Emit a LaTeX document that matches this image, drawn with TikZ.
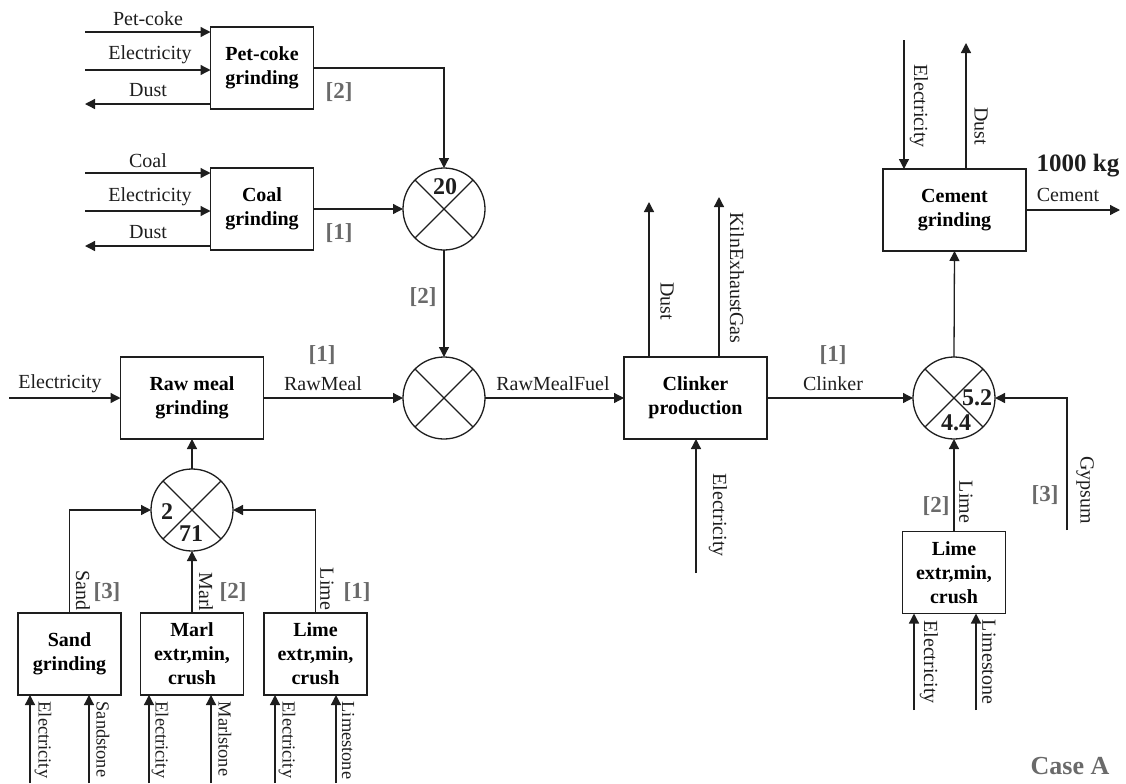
\documentclass[tikz,border=0pt]{standalone}
\usepackage{fontspec}
\setmainfont{Liberation Serif}
\usetikzlibrary{arrows.meta}
\definecolor{ink}{HTML}{1E1E1E}
\definecolor{idxgray}{HTML}{6A6A6A}
\begin{document}
\begin{tikzpicture}[x=0.5pt, y=-0.5pt, line width=0.65pt,
  arr/.style={draw=ink, -{Triangle[length=5pt,width=5pt]}},
  ln/.style={draw=ink},
  box/.style={draw=ink, align=center, inner sep=0pt, outer sep=0pt,
    font=\fontsize{10}{12}\selectfont\bfseries},
  sbox/.style={box, minimum width=51.5pt, minimum height=41pt},
  bbox/.style={box, minimum width=71.5pt, minimum height=41pt},
  mix/.style={circle, draw=ink, minimum size=41pt, inner sep=0pt, outer sep=0pt},
  lab/.style={font=\fontsize{10}{12}\selectfont, inner sep=0pt, text=ink},
  vlab/.style={lab, rotate=-90},
  blab/.style={font=\fontsize{9.2}{11}\selectfont, inner sep=0pt, text=ink, rotate=-90, anchor=west},
  idx/.style={font=\fontsize{11.5}{12}\selectfont\bfseries, inner sep=0pt, text=idxgray},
  num/.style={font=\fontsize{12}{12}\selectfont\bfseries, inner sep=0pt, text=ink}]
\useasboundingbox (0,0) rectangle (1126,783);

% ---------- boxes ----------
\node[sbox] (petcoke) at (262,68) {Pet-coke\\grinding};
\node[sbox] (coal) at (262,209) {Coal\\grinding};
\node[bbox] (rawmeal) at (192,398) {Raw meal\\grinding};
\node[bbox] (clinker) at (695.5,398) {Clinker\\production};
\node[bbox] (cement) at (954.5,210) {Cement\\grinding};
\node[sbox] (sand) at (69.5,654) {Sand\\grinding};
\node[sbox] (marl) at (192,654) {Marl\\extr,min,\\crush};
\node[sbox] (limel) at (315.5,654) {Lime\\extr,min,\\crush};
\node[sbox] (limer) at (954,572.5) {Lime\\extr,min,\\crush};

% ---------- mixers ----------
\node[mix] (m1) at (444,209) {};
\node[mix] (m2) at (444,398) {};
\node[mix] (m3) at (954,398) {};
\node[mix] (m4) at (192,510) {};
\foreach \m in {m1,m2,m3,m4}{
  \draw[ln] (\m.45) -- (\m.225);
  \draw[ln] (\m.135) -- (\m.315);
}
\node[num] (n20) at (445,187) {20};
\node[num] (n2) at (167,512) {2};
\node[num] (n71) at (191,534) {71};
\node[num] (n52) at (977,398) {5.2};
\node[num] (n44) at (956,423) {4.4};

% ---------- pet-coke and coal inputs ----------
\coordinate (pcin) at (85,32);
\coordinate (pcel) at (85,70);
\coordinate (pcdu) at (85,104);
\draw[arr] (pcin) -- (pcin -| petcoke.west);
\draw[arr] (pcel) -- (pcel -| petcoke.west);
\draw[arr] (pcdu -| petcoke.west) -- (pcdu);
\node[lab] (lpc) at (148,19) {Pet-coke};
\node[lab] (lpce) at (150,55) {Electricity};
\node[lab] (lpcd) at (148,90) {Dust};

\coordinate (coin) at (85,173);
\coordinate (coel) at (85,211);
\coordinate (codu) at (85,246);
\draw[arr] (coin) -- (coin -| coal.west);
\draw[arr] (coel) -- (coel -| coal.west);
\draw[arr] (codu -| coal.west) -- (codu);
\node[lab] (lco) at (148,161) {Coal};
\node[lab] (lcoe) at (150,197) {Electricity};
\node[lab] (lcod) at (148,232) {Dust};

\draw[arr] (petcoke.east) -| (m1.north);
\draw[arr] (coal.east) -- (m1.west);
\node[idx] (i2a) at (339,92) {[2]};
\node[idx] (i1a) at (339,233) {[1]};
\draw[arr] (m1.south) -- (m2.north);
\node[idx] (i2b) at (423,297) {[2]};

% ---------- main line ----------
\coordinate (rmel) at (9,398);
\draw[arr] (rmel) -- (rawmeal.west);
\node[lab] (lrme) at (60,384) {Electricity};
\draw[arr] (rawmeal.east) -- (m2.west);
\node[idx] (i1b) at (322,355) {[1]};
\node[lab] (lrm) at (323,384) {RawMeal};
\draw[arr] (m2.east) -- (clinker.west);
\node[lab] (lrmf) at (553,384) {RawMealFuel};
\draw[arr] (clinker.east) -- (m3.west);
\node[idx] (i1c) at (833,355) {[1]};
\node[lab] (lcl) at (833,384) {Clinker};

% ---------- clinker outputs / input ----------
\coordinate (cldu) at (649,202);
\coordinate (clkg) at (719,197);
\coordinate (clel) at (696,573);
\draw[arr] (cldu |- clinker.north) -- (cldu);
\draw[arr] (clkg |- clinker.north) -- (clkg);
\draw[arr] (clel) -- (clel |- clinker.south);
\node[vlab] (lcldu) at (667,301) {Dust};
\node[vlab] (lclkg) at (737,278) {KilnExhaustGas};
\node[vlab] (lclel) at (718,515) {Electricity};

% ---------- cement ----------
\draw[arr] (m3.north) -- (cement.south);
\coordinate (ceel) at (904,40);
\coordinate (cedu) at (966,43);
\draw[arr] (ceel) -- (ceel |- cement.north);
\draw[arr] (cedu |- cement.north) -- (cedu);
\node[vlab] (lceel) at (919,106) {Electricity};
\node[vlab] (lcedu) at (981,126) {Dust};
\coordinate (ceout) at (1120,210);
\draw[arr] (cement.east) -- (ceout);
\node[lab] (lce) at (1068,195) {Cement};
\node[font=\fontsize{12.5}{13}\selectfont\bfseries, inner sep=0pt, text=ink] (lkg) at (1078,166) {1000 kg};

% ---------- gypsum and lime (right) ----------
\coordinate (gyp) at (1067,530);
\draw[arr] (gyp) |- (m3.east);
\node[vlab] (lgyp) at (1085,490) {Gypsum};
\node[idx] (i3a) at (1045,495) {[3]};
\draw[arr] (limer.north) -- (m3.south);
\node[vlab] (llimer) at (966,502) {Lime};
\node[idx] (i2c) at (936,506) {[2]};
\coordinate (lrel) at (914,710);
\coordinate (lrls) at (976,710);
\draw[arr] (lrel) -- (lrel |- limer.south);
\draw[arr] (lrls) -- (lrls |- limer.south);
\node[vlab] (llrel) at (929,662) {Electricity};
\node[vlab] (llrls) at (989,662) {Limestone};

% ---------- raw materials (left) ----------
\draw[arr] (m4.north) -- (rawmeal.south);
\draw[arr] (sand.north) |- (m4.west);
\draw[arr] (marl.north) -- (m4.south);
\draw[arr] (limel.north) |- (m4.east);
\node[vlab] (lsand) at (83,590) {Sand};
\node[idx] (i3b) at (107,592) {[3]};
\node[vlab] (lmarl) at (206,592) {Marl};
\node[idx] (i2d) at (233,592) {[2]};
\node[vlab] (llime) at (327,589) {Lime};
\node[idx] (i1d) at (357,592) {[1]};

\coordinate (sel) at (30,783);
\coordinate (sss) at (89,783);
\coordinate (mel) at (149,783);
\coordinate (mms) at (211,783);
\coordinate (lel) at (275,783);
\coordinate (lls) at (336,783);
\draw[arr] (sel) -- (sel |- sand.south);
\draw[arr] (sss) -- (sss |- sand.south);
\draw[arr] (mel) -- (mel |- marl.south);
\draw[arr] (mms) -- (mms |- marl.south);
\draw[arr] (lel) -- (lel |- limel.south);
\draw[arr] (lls) -- (lls |- limel.south);
\node[blab] (lsel) at (43,701) {Electricity};
\node[blab] (lsss) at (103,701) {Sandstone};
\node[blab] (lmel) at (160,701) {Electricity};
\node[blab] (lmms) at (225,701) {Marlstone};
\node[blab] (llel) at (287,701) {Electricity};
\node[blab] (llls) at (348,701) {Limestone};

\node[font=\fontsize{13}{14}\selectfont\bfseries, inner sep=0pt, text=idxgray] (casea) at (1070,766) {Case A};
\end{tikzpicture}
\end{document}
